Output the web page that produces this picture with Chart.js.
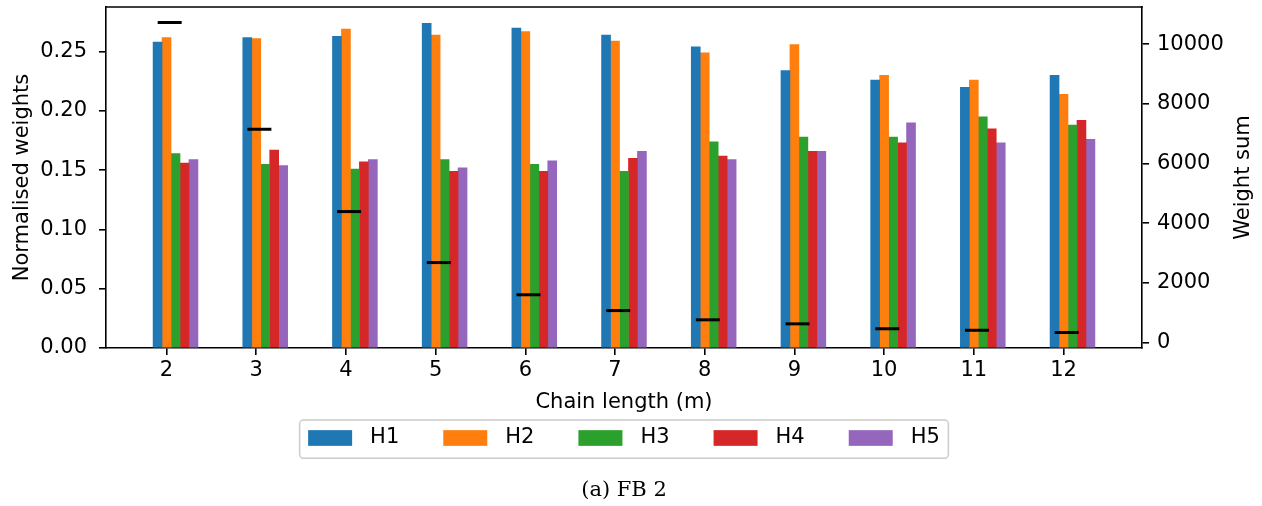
<!DOCTYPE html>
<html>
<head>
<meta charset="utf-8">
<script src="https://cdn.jsdelivr.net/npm/chart.js@4.4.0/dist/chart.umd.min.js"></script>
<style>
  html, body { margin: 0; padding: 0; background: #fff; }
  canvas { display: block; }
</style>
</head>
<body>
<canvas id="weights" width="1262" height="506"></canvas>
<script>
// chain lengths on the x axis
const chainLengths = [2, 3, 4, 5, 6, 7, 8, 9, 10, 11, 12];

// normalised weight per heuristic
const h1 = [0.258, 0.262, 0.263, 0.274, 0.270, 0.264, 0.254, 0.234, 0.226, 0.220, 0.230];
const h2 = [0.262, 0.261, 0.269, 0.264, 0.267, 0.259, 0.249, 0.256, 0.230, 0.226, 0.214];
const h3 = [0.164, 0.155, 0.151, 0.159, 0.155, 0.149, 0.174, 0.178, 0.178, 0.195, 0.188];
const h4 = [0.156, 0.167, 0.157, 0.149, 0.149, 0.160, 0.162, 0.166, 0.173, 0.185, 0.192];
const h5 = [0.159, 0.154, 0.159, 0.152, 0.158, 0.166, 0.159, 0.166, 0.190, 0.173, 0.176];

// total weight (right axis)
const weightSum = [10730, 7150, 4390, 2680, 1600, 1070, 760, 625, 460, 410, 335];

const seriesNames = ['H1', 'H2', 'H3', 'H4', 'H5'];
const normTicks = [0, 0.05, 0.10, 0.15, 0.20, 0.25];
const sumTicks = [0, 2000, 4000, 6000, 8000, 10000];

const series = [h1, h2, h3, h4, h5];
const colors = ['#1f77b4', '#ff7f0e', '#2ca02c', '#d62728', '#9467bd'];
const barWidth = 0.1;
const dashShift = 0.035;
const FONT = 'DejaVu Sans';

Chart.defaults.font.family = FONT;
Chart.defaults.font.size = 21;
Chart.defaults.color = '#000';

// 5% margins like the usual autoscale
function padRange(lo, hi) {
  const m = (hi - lo) * 0.05;
  return [lo - m, hi + m];
}
const [xMin, xMax] = padRange(chainLengths[0] - 1.5 * barWidth, chainLengths[chainLengths.length - 1] + 3.5 * barWidth);
const normMax = Math.max(...series.flat()) * 1.05;
const [sumMin, sumMax] = padRange(Math.min(...weightSum), Math.max(...weightSum));

const barSets = series.map((vals, k) => ({
  type: 'bar',
  label: seriesNames[k],
  data: chainLengths.map((c, i) => ({ x: c + (k - 1) * barWidth, y: vals[i] })),
  backgroundColor: colors[k],
  borderWidth: 0,
  grouped: false,
  barPercentage: 1,
  categoryPercentage: 1,
  yAxisID: 'y',
  order: 1
}));

const sumSet = {
  type: 'line',
  label: 'Weight sum',
  data: chainLengths.map((c, i) => ({ x: c + dashShift, y: weightSum[i] })),
  showLine: false,
  pointStyle: 'line',
  pointRadius: 12,
  pointHoverRadius: 12,
  pointBorderWidth: 3,
  borderColor: '#000',
  backgroundColor: '#000',
  yAxisID: 'y1',
  order: 0
};

const axisLine = { display: true, color: '#000', width: 1.6 };
const tickMarks = { display: true, offset: false, drawOnChartArea: false, drawTicks: true, tickLength: 7, color: '#000', lineWidth: 1.6 };

function noEdgePadding(scale) {
  scale.paddingTop = 0;
  scale.paddingBottom = 0;
  scale.paddingLeft = 0;
  scale.paddingRight = 0;
}

// top spine, right-hand axis title, boxed legend and caption
const figureExtras = {
  id: 'figureExtras',
  afterDraw(chart) {
    const { ctx, chartArea: area, scales } = chart;
    ctx.save();

    ctx.strokeStyle = '#000';
    ctx.lineWidth = 1.6;
    ctx.beginPath();
    ctx.moveTo(area.left - 0.8, area.top);
    ctx.lineTo(area.right + 0.8, area.top);
    ctx.stroke();

    ctx.font = '21px "' + FONT + '"';
    ctx.fillStyle = '#000';
    ctx.textAlign = 'center';
    ctx.textBaseline = 'middle';
    ctx.save();
    ctx.translate(1244, (area.top + area.bottom) / 2);
    ctx.rotate(-Math.PI / 2);
    ctx.fillText('Weight sum', 0, 0);
    ctx.restore();

    // legend
    const patchW = 44, patchH = 15.7, gap = 18, colGap = 44, padX = 8.5;
    const items = chart.data.datasets.filter(d => d.type === 'bar');
    const widths = items.map(d => patchW + gap + ctx.measureText(d.label).width);
    const total = widths.reduce((a, b) => a + b, 0) + colGap * (items.length - 1);
    const cx = (area.left + area.right) / 2;
    const top = scales.x.bottom + 2;
    const frameH = 38.3;
    ctx.beginPath();
    ctx.roundRect(cx - total / 2 - padX, top, total + 2 * padX, frameH, 4);
    ctx.fillStyle = 'rgba(255,255,255,0.8)';
    ctx.fill();
    ctx.strokeStyle = '#cccccc';
    ctx.lineWidth = 1.5;
    ctx.stroke();

    const rowY = top + 18;
    let x = cx - total / 2;
    ctx.textAlign = 'left';
    items.forEach((d, i) => {
      ctx.fillStyle = d.backgroundColor;
      ctx.fillRect(x, rowY - patchH / 2, patchW, patchH);
      ctx.fillStyle = '#000';
      ctx.fillText(d.label, x + patchW + gap, rowY);
      x += widths[i] + colGap;
    });

    ctx.font = '21px "DejaVu Serif"';
    ctx.textAlign = 'center';
    ctx.fillText('(a) FB 2', cx, 491);
    ctx.restore();
  }
};

new Chart(document.getElementById('weights'), {
  type: 'bar',
  data: { datasets: [...barSets, sumSet] },
  options: {
    responsive: false,
    animation: false,
    devicePixelRatio: 1,
    layout: { autoPadding: false, padding: { top: 7, left: 0, right: 0, bottom: 88 } },
    plugins: { legend: { display: false }, tooltip: { enabled: false } },
    scales: {
      x: {
        type: 'linear',
        offset: false,
        min: xMin,
        max: xMax,
        z: 1,
        grid: tickMarks,
        border: axisLine,
        ticks: { autoSkip: false, padding: 3, maxRotation: 0, callback: v => String(v) },
        afterBuildTicks: s => { s.ticks = chainLengths.map(v => ({ value: v })); },
        title: { display: true, text: 'Chain length (m)', padding: { top: 0, bottom: 3 } },
        afterFit: s => { s.height = 70; noEdgePadding(s); }
      },
      y: {
        position: 'left',
        min: 0,
        max: normMax,
        z: 1,
        grid: tickMarks,
        border: axisLine,
        ticks: { padding: 12, callback: v => v.toFixed(2) },
        afterBuildTicks: s => { s.ticks = normTicks.map(v => ({ value: v })); },
        title: { display: true, text: 'Normalised weights', padding: { top: 10, bottom: 0 } },
        afterFit: s => { s.width = 106; noEdgePadding(s); }
      },
      y1: {
        position: 'right',
        min: sumMin,
        max: sumMax,
        z: 1,
        grid: tickMarks,
        border: axisLine,
        ticks: { padding: 8, callback: v => String(v) },
        afterBuildTicks: s => { s.ticks = sumTicks.map(v => ({ value: v })); },
        afterFit: s => { s.width = 120; noEdgePadding(s); }
      }
    }
  },
  plugins: [figureExtras]
});
</script>
</body>
</html>
